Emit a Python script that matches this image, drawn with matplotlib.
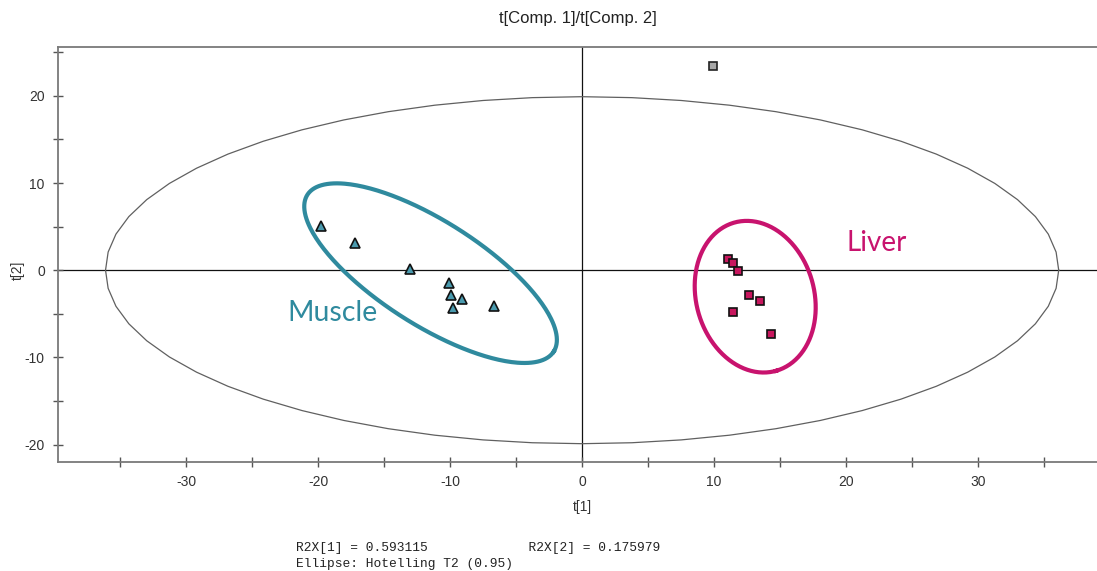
import numpy as np
import matplotlib
matplotlib.use("Agg")
import matplotlib.pyplot as plt
from matplotlib.ticker import MultipleLocator

plt.rcParams["axes.unicode_minus"] = False

# ---- data ----
muscle_t1 = [-19.8, -17.2, -13.0, -10.1, -9.9, -9.07, -9.75, -6.7]
muscle_t2 = [5.05, 3.1, 0.15, -1.45, -2.8, -3.3, -4.3, -4.05]
liver_t1 = [11.04, 11.46, 11.77, 12.63, 13.46, 11.46, 14.27]
liver_t2 = [1.26, 0.77, -0.04, -2.9, -3.5, -4.8, -7.3]
outlier_t1 = [9.95]
outlier_t2 = [23.4]

hotelling_axes = (36.1, 19.9)  # semi-axes of Hotelling T2 ellipse
muscle_ell = dict(center=(-11.48, -0.34), u=(9.33, -8.99), v=(-2.12, -5.03))
liver_ell = dict(center=(13.11, -3.04), u=(1.585, -8.50), v=(4.30, 1.84))

x_ticks = [-30, -20, -10, 0, 10, 20, 30]
y_ticks = [-20, -10, 0, 10, 20]

r2x = (0.593115, 0.175979)

# ---- figure ----
fig = plt.figure(figsize=(10.97, 5.71), dpi=100)
ax = fig.add_axes([58 / 1097, (571 - 462) / 571, 1 - 58 / 1097, (462 - 47) / 571])
ax.set_xlim(-39.7, 39.0)
ax.set_ylim(-22.0, 25.6)

spine_c = "#7a7a7a"
for s in ["left", "bottom", "top"]:
    ax.spines[s].set_color(spine_c)
    ax.spines[s].set_linewidth(1.3)
ax.spines["right"].set_visible(False)

ax.set_xticks(x_ticks)
ax.set_yticks(y_ticks)
ax.xaxis.set_minor_locator(MultipleLocator(5))
ax.yaxis.set_minor_locator(MultipleLocator(5))
ax.tick_params(which="both", direction="inout", length=7, width=1.0, color="#555555",
               labelsize=10, labelcolor="#333333", pad=6)
ax.tick_params(top=False, right=False)
for lbl in ax.get_xticklabels() + ax.get_yticklabels():
    lbl.set_family("Liberation Sans")

ax.axhline(0, color="#111111", lw=0.9, zorder=1)
ax.axvline(0, color="#111111", lw=0.9, zorder=1)

# Hotelling ellipse (polygonal look)
th = np.linspace(0, 2 * np.pi, 61)
ax.plot(hotelling_axes[0] * np.cos(th), hotelling_axes[1] * np.sin(th),
        color="#606060", lw=0.9, zorder=2)

# group ellipses
t = np.linspace(0, 2 * np.pi, 300)
for e, col in [(muscle_ell, "#2f8a9e"), (liver_ell, "#c8136e")]:
    cx, cy = e["center"]
    ux, uy = e["u"]
    vx, vy = e["v"]
    ax.plot(cx + ux * np.cos(t) + vx * np.sin(t), cy + uy * np.cos(t) + vy * np.sin(t),
            color=col, lw=3.0, zorder=3)

ax.plot(muscle_t1, muscle_t2, linestyle="none", marker="^", markersize=6.5,
        markerfacecolor="#4a9aae", markeredgecolor="#111111", markeredgewidth=1.2, zorder=5)
ax.plot(liver_t1, liver_t2, linestyle="none", marker="s", markersize=5.5,
        markerfacecolor="#c8175e", markeredgecolor="#111111", markeredgewidth=1.2, zorder=5)
ax.plot(outlier_t1, outlier_t2, linestyle="none", marker="s", markersize=5.5,
        markerfacecolor="#a8a8a8", markeredgecolor="#222222", markeredgewidth=1.2, zorder=5)

ax.text(-22.3, -4.9, "Muscle", color="#2f8a9e", fontsize=20.5, family="Lato",
        ha="left", va="center", zorder=6)
ax.text(20.0, 3.1, "Liver", color="#c8136e", fontsize=20, family="Lato",
        ha="left", va="center", zorder=6)

# titles and labels
fig.text(578 / 1097, 1 - 19 / 571, "t[Comp. 1]/t[Comp. 2]", ha="center", va="center",
         fontsize=12, family="Liberation Sans", color="#222222")
fig.text(582 / 1097, 1 - 507 / 571, "t[1]", ha="center", va="center",
         fontsize=10, family="Liberation Sans", color="#333333")
fig.text(18 / 1097, 1 - 270 / 571, "t[2]", ha="center", va="center", rotation=90,
         fontsize=10, family="Liberation Sans", color="#333333")

line1 = f"R2X[1] = {r2x[0]:.6f}" + " " * 13 + f"R2X[2] = {r2x[1]:.6f}"
fig.text(296 / 1097, 1 - 548 / 571, line1, ha="left", va="center",
         fontsize=9.3, family="Liberation Mono", color="#222222")
fig.text(296 / 1097, 1 - 564 / 571, "Ellipse: Hotelling T2 (0.95)", ha="left", va="center",
         fontsize=9.3, family="Liberation Mono", color="#222222")

fig.savefig("out.png", dpi=100)
